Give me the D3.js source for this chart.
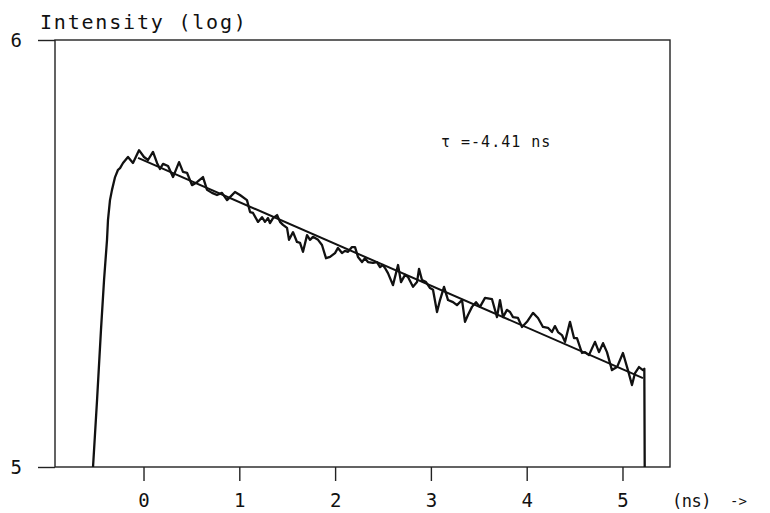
<html>
<head>
<style>
  body { margin: 0; background: #fff; }
  text { font-family: "DejaVu Sans Mono", monospace; fill: #111; }
</style>
</head>
<body>
<div id="chart"></div>
<script src="https://cdn.jsdelivr.net/npm/d3@7"></script>
<script>

var width = 770, height = 513;

// decay trace, time in ns, intensity as log10
var time = [
  -0.527, -0.485, -0.444, -0.412, -0.381, -0.371, -0.350, -0.329, -0.297, -0.266, -0.245,
  -0.214, -0.162, -0.110, -0.047, 0.005, 0.047, 0.099, 0.141, 0.172, 0.204, 0.256,
  0.308, 0.371, 0.412, 0.454, 0.506, 0.558, 0.621, 0.663, 0.715, 0.767, 0.819,
  0.872, 0.903, 0.955, 1.007, 1.080, 1.112, 1.143, 1.195, 1.237, 1.268, 1.300,
  1.320, 1.352, 1.394, 1.425, 1.456, 1.498, 1.519, 1.561, 1.602, 1.634, 1.665,
  1.707, 1.738, 1.769, 1.822, 1.863, 1.905, 1.947, 1.999, 2.030, 2.072, 2.103,
  2.135, 2.176, 2.208, 2.239, 2.281, 2.312, 2.343, 2.396, 2.437, 2.469, 2.500,
  2.521, 2.552, 2.604, 2.657, 2.688, 2.730, 2.761, 2.813, 2.855, 2.876, 2.907,
  2.949, 2.991, 3.022, 3.064, 3.095, 3.137, 3.179, 3.231, 3.272, 3.325, 3.356,
  3.387, 3.429, 3.471, 3.512, 3.565, 3.638, 3.690, 3.721, 3.753, 3.794, 3.826,
  3.857, 3.909, 3.951, 4.003, 4.066, 4.118, 4.170, 4.222, 4.264, 4.295, 4.327,
  4.368, 4.400, 4.452, 4.494, 4.525, 4.577, 4.609, 4.650, 4.713, 4.755, 4.797,
  4.838, 4.890, 4.943, 5.005, 5.057, 5.099, 5.131, 5.172, 5.214, 5.228, 5.232
];
var intensity = [
  5.000, 5.157, 5.321, 5.438, 5.532, 5.578, 5.625, 5.649, 5.679, 5.696, 5.700,
  5.712, 5.726, 5.712, 5.742, 5.726, 5.719, 5.738, 5.712, 5.698, 5.710, 5.705,
  5.679, 5.714, 5.691, 5.689, 5.660, 5.667, 5.679, 5.649, 5.642, 5.637, 5.642,
  5.625, 5.632, 5.644, 5.637, 5.625, 5.597, 5.595, 5.574, 5.585, 5.574, 5.583,
  5.571, 5.583, 5.590, 5.574, 5.567, 5.560, 5.532, 5.550, 5.527, 5.525, 5.504,
  5.543, 5.532, 5.539, 5.532, 5.520, 5.489, 5.492, 5.501, 5.513, 5.501, 5.506,
  5.504, 5.515, 5.515, 5.492, 5.480, 5.489, 5.480, 5.478, 5.480, 5.468, 5.473,
  5.466, 5.454, 5.426, 5.473, 5.433, 5.450, 5.445, 5.422, 5.433, 5.464, 5.438,
  5.433, 5.419, 5.415, 5.363, 5.391, 5.422, 5.391, 5.386, 5.379, 5.391, 5.340,
  5.356, 5.375, 5.386, 5.375, 5.396, 5.393, 5.351, 5.391, 5.351, 5.368, 5.363,
  5.351, 5.349, 5.328, 5.340, 5.361, 5.349, 5.328, 5.326, 5.316, 5.330, 5.316,
  5.309, 5.293, 5.340, 5.302, 5.302, 5.267, 5.269, 5.262, 5.293, 5.269, 5.290,
  5.269, 5.227, 5.234, 5.267, 5.227, 5.192, 5.220, 5.234, 5.227, 5.230, 5.000
];

// fitted straight line, end points
var fitTime = [-0.057, 5.214];
var fitValue = [5.724, 5.208];

var xTicks = [0, 1, 2, 3, 4, 5];
var yTicks = [5, 6];

var svg = d3.select("#chart").append("svg")
    .attr("width", width).attr("height", height);

var x = d3.scaleLinear().domain([-0.924, 5.496]).range([55, 670]);
var y = d3.scaleLinear().domain([5, 6]).range([467, 40]);

// frame
svg.append("rect")
    .attr("x", x.range()[0]).attr("y", y.range()[1])
    .attr("width", x.range()[1] - x.range()[0])
    .attr("height", y.range()[0] - y.range()[1])
    .attr("fill", "none").attr("stroke", "#222").attr("stroke-width", 1.4);

var xAxis = svg.append("g")
    .attr("transform", "translate(0," + y.range()[0] + ")")
    .call(d3.axisBottom(x).tickValues(xTicks).tickSize(14).tickPadding(13).tickFormat(d3.format("d")));
xAxis.select(".domain").remove();
xAxis.selectAll("line").attr("stroke", "#222").attr("stroke-width", 1.4);
xAxis.selectAll("text").style("font-size", "19px").style("font-family", "DejaVu Sans Mono").attr("fill", "#111");

var yAxis = svg.append("g")
    .attr("transform", "translate(" + x.range()[0] + ",0)")
    .call(d3.axisLeft(y).tickValues(yTicks).tickSize(17).tickPadding(16).tickFormat(d3.format("d")));
yAxis.select(".domain").remove();
yAxis.selectAll("line").attr("stroke", "#222").attr("stroke-width", 1.4);
yAxis.selectAll("text").style("font-size", "19px").style("font-family", "DejaVu Sans Mono").attr("fill", "#111");

var trace = time.map((t, i) => [t, intensity[i]]);

svg.append("path")
    .datum(trace)
    .attr("fill", "none")
    .attr("stroke", "#111")
    .attr("stroke-width", 2.3)
    .attr("stroke-linejoin", "round")
    .attr("d", d3.line().x(d => x(d[0])).y(d => y(d[1])));

svg.append("path")
    .datum(fitTime.map((t, i) => [t, fitValue[i]]))
    .attr("fill", "none")
    .attr("stroke", "#111")
    .attr("stroke-width", 2)
    .attr("d", d3.line().x(d => x(d[0])).y(d => y(d[1])));

svg.append("text")
    .attr("x", 40).attr("y", 29)
    .style("font-size", "20px").style("letter-spacing", "1.8px")
    .text("Intensity (log)");

svg.append("text")
    .attr("x", 441).attr("y", 147)
    .style("font-size", "15px").style("letter-spacing", "1px")
    .text("\u03C4 =-4.41 ns");

svg.append("text")
    .attr("x", 672).attr("y", 507)
    .style("font-size", "17px").style("letter-spacing", "-0.5px")
    .text("(ns)");

svg.append("text")
    .attr("x", 730).attr("y", 506)
    .style("font-size", "14px")
    .text("->");

</script>
</body>
</html>
